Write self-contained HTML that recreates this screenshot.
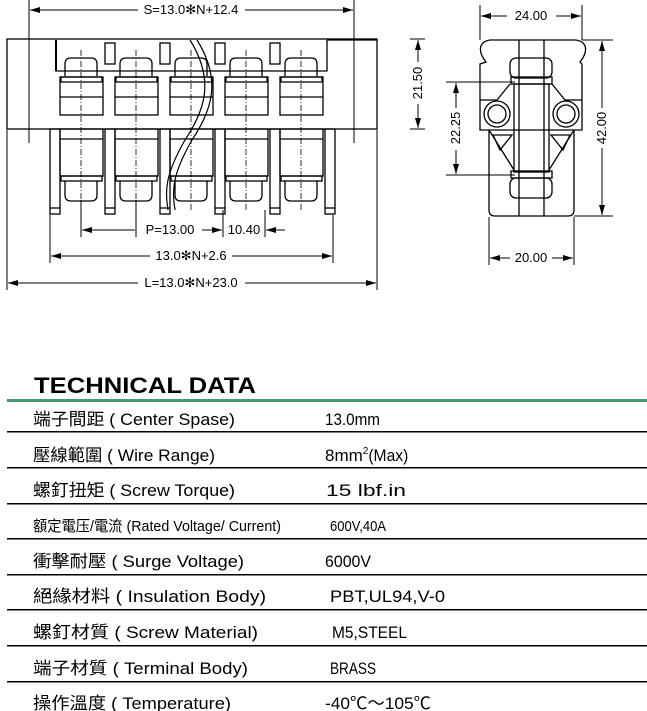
<!DOCTYPE html>
<html><head><meta charset="utf-8"><style>
html,body{margin:0;padding:0;background:#fff;}
svg{display:block}
.t{font-family:"Liberation Sans","Noto Sans CJK TC",sans-serif;}
.d{font-family:"Liberation Sans",sans-serif;font-size:13px;}
</style></head><body>
<svg id="s" width="647" height="711" viewBox="0 0 647 711" xmlns="http://www.w3.org/2000/svg">
<defs><marker id="a" viewBox="0 0 10 6" refX="10" refY="3" markerWidth="10" markerHeight="6" orient="auto-start-reverse"><path d="M0,0L10,3L0,6z" fill="#000"/></marker></defs>
<g id="draw" fill="none" stroke="#000" stroke-width="1.3">
<rect x="7" y="39" width="370" height="90"/>
<path d="M56,40V71H327V40"/>
<path d="M56,40V71" stroke-width="2"/>
<path d="M327,40H377"/>
<path d="M190,40 C215,80 205,110 185,140 C165,175 165,190 168,210" stroke-width="1.2"/>
<path d="M197,40 C222,80 212,110 192,140 C172,175 172,190 175,210" stroke-width="1.2"/>
<g stroke-width="1">
<line x1="29" y1="0" x2="29" y2="143"/><line x1="354" y1="0" x2="354" y2="143"/>
<line x1="30" y1="10" x2="138" y2="10" marker-start="url(#a)"/><line x1="245" y1="10" x2="353" y2="10" marker-end="url(#a)"/>
<line x1="7" y1="130" x2="7" y2="290"/><line x1="377" y1="130" x2="377" y2="290"/>
<line x1="8" y1="283" x2="138" y2="283" marker-start="url(#a)"/><line x1="245" y1="283" x2="376" y2="283" marker-end="url(#a)"/>
<line x1="50" y1="215" x2="50" y2="263"/><line x1="333" y1="215" x2="333" y2="263"/>
<line x1="51" y1="256" x2="150" y2="256" marker-start="url(#a)"/><line x1="232" y1="256" x2="332" y2="256" marker-end="url(#a)"/>
<line x1="81" y1="200" x2="81" y2="237"/><line x1="136" y1="200" x2="136" y2="237"/><line x1="223" y1="210" x2="223" y2="237"/><line x1="265" y1="210" x2="265" y2="237"/>
<line x1="82" y1="230" x2="135" y2="230" marker-start="url(#a)"/><line x1="202" y1="230" x2="222" y2="230" marker-end="url(#a)"/>
<line x1="266" y1="230" x2="285" y2="230" marker-start="url(#a)"/>
<line x1="480" y1="5" x2="480" y2="40"/><line x1="582" y1="5" x2="582" y2="40"/>
<line x1="481" y1="16" x2="507" y2="16" marker-start="url(#a)"/><line x1="556" y1="16" x2="581" y2="16" marker-end="url(#a)"/>
<line x1="582" y1="40" x2="613" y2="40"/><line x1="574" y1="216" x2="613" y2="216"/>
<line x1="602" y1="41" x2="602" y2="108" marker-start="url(#a)"/><line x1="602" y1="148" x2="602" y2="215" marker-end="url(#a)"/>
<line x1="446" y1="82" x2="515" y2="82"/><line x1="446" y1="175" x2="515" y2="175"/>
<line x1="456" y1="83" x2="456" y2="108" marker-start="url(#a)"/><line x1="456" y1="150" x2="456" y2="174" marker-end="url(#a)"/>
<line x1="410" y1="39" x2="425" y2="39"/><line x1="410" y1="129" x2="425" y2="129"/>
<line x1="418" y1="40" x2="418" y2="62" marker-start="url(#a)"/><line x1="418" y1="104" x2="418" y2="128" marker-end="url(#a)"/>
<line x1="489" y1="217" x2="489" y2="265"/><line x1="574" y1="217" x2="574" y2="265"/>
<line x1="490" y1="258" x2="510" y2="258" marker-start="url(#a)"/><line x1="552" y1="258" x2="573" y2="258" marker-end="url(#a)"/>
</g>
<path d="M486,62 C478,52 478,42 490,40 H576 C588,42 588,52 580,62 L582,64 V130 H480 V64 Z"/>
<path d="M489,130 V210 Q489,216 495,216 H568 Q574,216 574,210 V130"/>
<line x1="519" y1="40" x2="519" y2="216"/><line x1="544" y1="40" x2="544" y2="216"/>
<rect x="510" y="58" width="42" height="20" rx="6"/>
<rect x="511" y="77" width="41" height="7"/>
<rect x="514" y="84" width="35" height="88"/>
<rect x="511" y="171" width="41" height="7"/>
<rect x="510" y="178" width="42" height="20" rx="6"/>
<path d="M510,84 L497,100 H480"/><path d="M552,84 L565,100 H582"/>
<circle cx="497" cy="114" r="13"/><circle cx="497" cy="114" r="9"/>
<circle cx="566" cy="114" r="13"/><circle cx="566" cy="114" r="9"/>
<path d="M493,135 H512 L500,150 Z"/><path d="M570,135 H551 L563,150 Z"/>
<path d="M489,130 L514,170"/><path d="M574,130 L549,170"/>
</g>
<text class="d" x="191" y="14" text-anchor="middle">S=13.0✻N+12.4</text>
<text class="d" x="191" y="287" text-anchor="middle">L=13.0✻N+23.0</text>
<text class="d" x="191" y="260" text-anchor="middle">13.0✻N+2.6</text>
<text class="d" x="170" y="234" text-anchor="middle">P=13.00</text>
<text class="d" x="244" y="234" text-anchor="middle">10.40</text>
<text class="d" x="531" y="20" text-anchor="middle">24.00</text>
<text class="d" x="531" y="262" text-anchor="middle">20.00</text>
<text class="d" transform="translate(606,128) rotate(-90)" text-anchor="middle">42.00</text>
<text class="d" transform="translate(460,128) rotate(-90)" text-anchor="middle">22.25</text>
<text class="d" transform="translate(422,83) rotate(-90)" text-anchor="middle">21.50</text>
<text x="34" y="393" textLength="222" lengthAdjust="spacingAndGlyphs" style="font-family:'Liberation Sans',sans-serif;font-weight:bold;font-size:22px">TECHNICAL DATA</text>
<rect x="7" y="399" width="640" height="3" fill="#4a9a70"/>
<g fill="#000">
<rect x="7" y="431" width="640" height="1.5"/><rect x="7" y="467" width="640" height="1.5"/><rect x="7" y="503" width="640" height="1.5"/><rect x="7" y="538" width="640" height="1.5"/><rect x="7" y="574" width="640" height="1.5"/><rect x="7" y="609" width="640" height="1.5"/><rect x="7" y="645" width="640" height="1.5"/><rect x="7" y="681" width="640" height="1.5"/>
</g>
<g class="t" font-size="17" lengthAdjust="spacingAndGlyphs">
<text x="33" y="425" textLength="202" lengthAdjust="spacingAndGlyphs">端子間距 ( Center Spase)</text><text x="325" y="425" textLength="55" lengthAdjust="spacingAndGlyphs">13.0mm</text>
<text x="33" y="461" textLength="182" lengthAdjust="spacingAndGlyphs">壓線範圍 ( Wire Range)</text><text x="325" y="461">8mm<tspan font-size="10" dy="-7">2</tspan><tspan dy="7" textLength="40" lengthAdjust="spacingAndGlyphs">(Max)</tspan></text>
<text x="33" y="496" textLength="202" lengthAdjust="spacingAndGlyphs">螺釘扭矩 ( Screw Torque)</text><text x="326" y="496" textLength="80" lengthAdjust="spacingAndGlyphs">15 lbf.in</text>
<text x="33" y="531" font-size="15" textLength="248" lengthAdjust="spacingAndGlyphs">額定電压/電流 (Rated Voltage/ Current)</text><text x="330" y="531" font-size="15" textLength="56" lengthAdjust="spacingAndGlyphs">600V,40A</text>
<text x="33" y="567" textLength="211" lengthAdjust="spacingAndGlyphs">衝擊耐壓 ( Surge Voltage)</text><text x="325" y="567" textLength="46" lengthAdjust="spacingAndGlyphs">6000V</text>
<text x="33" y="602" textLength="233" lengthAdjust="spacingAndGlyphs">絕緣材料 ( Insulation Body)</text><text x="330" y="602" textLength="115" lengthAdjust="spacingAndGlyphs">PBT,UL94,V-0</text>
<text x="33" y="638" textLength="225" lengthAdjust="spacingAndGlyphs">螺釘材質 ( Screw Material)</text><text x="332" y="638" textLength="75" lengthAdjust="spacingAndGlyphs">M5,STEEL</text>
<text x="33" y="674" textLength="215" lengthAdjust="spacingAndGlyphs">端子材質 ( Terminal Body)</text><text x="330" y="674" textLength="46" lengthAdjust="spacingAndGlyphs">BRASS</text>
<text x="33" y="709" textLength="198" lengthAdjust="spacingAndGlyphs">操作溫度 ( Temperature)</text><text x="325" y="709" textLength="106" lengthAdjust="spacingAndGlyphs">-40℃～105℃</text>
</g>
</svg>
<script>
var g=document.getElementById('draw'),NS='http://www.w3.org/2000/svg';
function el(t,a){var e=document.createElementNS(NS,t);for(var k in a)e.setAttribute(k,a[k]);g.appendChild(e);}
for(var i=0;i<5;i++){var c=81+55*i;
el('rect',{x:c-21,y:77,width:43,height:38});el('line',{x1:c-21,y1:97,x2:c+22,y2:97});
el('rect',{x:c-20,y:77,width:41,height:5});
el('path',{d:'M'+(c-16)+',76 V64 Q'+(c-16)+',58 '+(c-10)+',58 H'+(c+10)+' Q'+(c+16)+',58 '+(c+16)+',64 V76'});
el('rect',{x:c-21,y:129,width:43,height:47});el('line',{x1:c-21,y1:139,x2:c+22,y2:139});
el('rect',{x:c-20,y:176,width:41,height:5});
el('path',{d:'M'+(c-16)+',181 V195 Q'+(c-16)+',201 '+(c-10)+',201 H'+(c+10)+' Q'+(c+16)+',201 '+(c+16)+',195 V181'});
el('line',{x1:c,y1:50,x2:c,y2:210,'stroke-dasharray':'6 2 1 2','stroke-width':0.8});
}
for(var j=0;j<6;j++){var x=50+55*j;
el('rect',{x:x,y:129,width:10,height:85});el('line',{x1:x,y1:208,x2:x+10,y2:208});
if(j>0&&j<5)el('rect',{x:x,y:43,width:10,height:21});}
</script>
</body></html>
